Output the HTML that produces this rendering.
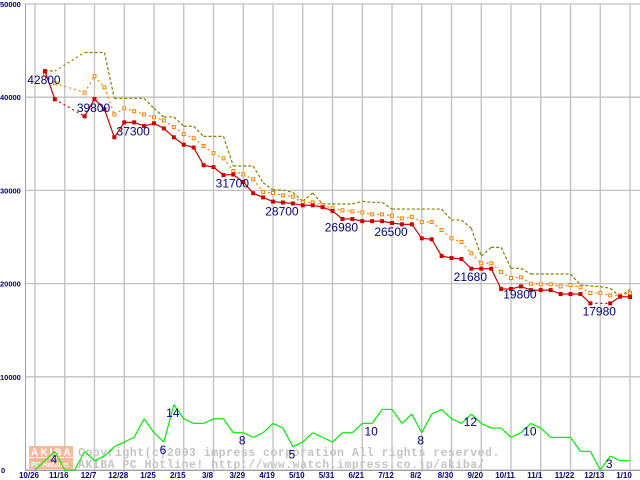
<!DOCTYPE html>
<html><head><meta charset="utf-8"><style>
html,body{margin:0;padding:0;background:#fff;width:640px;height:480px;overflow:hidden}
svg text{font-family:"Liberation Sans",sans-serif}
</style></head><body>
<svg id="chart" width="640" height="480" xmlns="http://www.w3.org/2000/svg">
<g id="grid"></g>
<g id="wm">
 <rect x="29" y="446" width="44" height="11" fill="#f7b99a"/>
 <rect x="29" y="458" width="44" height="11" fill="#f7b99a"/>
 <text x="31" y="455.5" font-size="10" font-weight="bold" fill="#fff" letter-spacing="2">AKIBA</text>
 <text x="31" y="467" font-size="7" font-weight="bold" fill="#fff">PC Hotline!</text>
 <text x="78" y="456" font-size="11.5" font-weight="bold" fill="#c4c4c4" letter-spacing="0.5" style="font-family:'Liberation Mono',monospace">Copyright(c)2003 impress corporation All rights reserved.</text>
 <text x="78" y="468" font-size="11.5" font-weight="bold" fill="#c4c4c4" letter-spacing="0.5" style="font-family:'Liberation Mono',monospace">AKIBA PC Hotline!  http://www.watch.impress.co.jp/akiba/</text>
</g>
<g id="series"></g>
<g id="labels"></g>
</svg>
<script>
const xTickLabels=["10/26","11/16","12/7","12/28","1/25","2/15","3/8","3/29","4/19","5/10","5/31","6/21","7/12","8/2","8/30","9/20","10/11","11/1","11/22","12/13","1/10"];
const yTicks=[0,10000,20000,30000,40000,50000];
const minPrice=[null,42800,39770,null,null,37950,39800,38700,35700,37300,37300,36900,37200,36650,35700,34900,34600,32700,32500,31650,31700,30900,29700,29250,28800,28700,28600,28400,28400,28200,27800,26930,26930,26700,26700,26700,26500,26360,26360,24860,24750,22960,22750,22640,21600,21600,21600,19420,19420,19700,19300,19300,19300,18880,18880,18880,17880,null,17880,18600,18560];
const avgPrice=[null,42400,41500,null,null,40500,42250,41050,38150,38800,38500,38150,37850,37500,36800,36050,35600,34760,34000,33440,32080,31720,31190,29830,29720,29470,29330,28720,28720,28430,28080,27860,27750,27640,27430,27430,27290,27000,27150,26610,26610,25750,24860,24460,23250,22180,22180,21240,20600,20670,19990,19920,19920,19700,19850,19600,18990,19000,18740,18740,18990];
const maxPrice=[null,42850,42800,null,null,44800,44800,44800,39880,39880,39880,39880,38800,37880,37880,36880,36880,35800,35800,35800,32620,32620,32620,30830,30040,30040,29790,28830,29720,28540,28540,28540,28540,28830,28720,28720,28000,28000,28000,28000,28000,28000,26820,26820,25930,22960,23890,23890,21640,21640,21030,21030,21030,21030,21030,19850,19740,19670,19500,18600,19390];
const shopCount=[0,2,4,0,0,4,2,3,5,6,7,11,8,6,14,11,10,10,11,11,8,8,7,8,10,9,5,6,8,7,6,8,8,10,10,13,13,10,12,8,12,13,11,10,12,10,9,9,7,8,10,9,7,7,7,4,4,0,3,2,2];
const priceLabels=[[1,42800],[6,39800],[10,37300],[20,31700],[25,28700],[31,26980],[36,26500],[44,21680],[49,19800],[57,17980]];
const countLabels=[[2,4],[13,6],[14,14],[21,8],[26,5],[34,10],[39,8],[44,12],[50,10],[58,3]];

const NS="http://www.w3.org/2000/svg";
const X0=35, WEEK=9.917, Y0=470, PPV=466/50000, CPV=4.66;
const xS=i=>X0+i*WEEK, yS=v=>Y0-v*PPV, yC=c=>Y0-c*CPV;
function mk(tag,attrs,parent){const e=document.createElementNS(NS,tag);for(const k in attrs)e.setAttribute(k,attrs[k]);parent.appendChild(e);return e;}
const grid=document.getElementById('grid'),ser=document.getElementById('series'),lab=document.getElementById('labels');
yTicks.forEach(v=>{
  const l=mk('line',{x1:25,x2:640,y1:yS(v),y2:yS(v),stroke:'#c0c0c0','stroke-width':1.3},grid);
  
  
  const t=mk('text',{x:v===0?1:0,y:yS(v)+3,'font-size':7.5,'font-weight':'bold',fill:'#000080'},grid);
  t.textContent=v===0?'0':String(v);
  
  
});
xTickLabels.forEach((s,k)=>{
  const x=X0+k*3*WEEK;
  const l=mk('line',{x1:x,x2:x,y1:4,y2:472,stroke:'#c0c0c0','stroke-width':1.3},grid);
  
  
  const t=mk('text',{x:x-6,y:478,'font-size':8,'font-weight':'bold',fill:'#000080','text-anchor':'middle'},grid);
  t.textContent=s;
  
  
});
const ax=mk('line',{x1:25.5,x2:25.5,y1:4,y2:471,stroke:'#a0a0a0','stroke-width':1},grid);


const bx=mk('line',{x1:25,x2:640,y1:470.5,y2:470.5,stroke:'#a0a0a0','stroke-width':1},grid);



function drawSeries(arr,yf,color,dash,name,marker){
  const g=mk('g',{},ser);
  
  
  let prev=null;
  arr.forEach((v,i)=>{
    if(v===null)return;
    if(prev!==null){
      const gap=i-prev>1;
      const a={x1:xS(prev),y1:yf(arr[prev]),x2:xS(i),y2:yf(v),stroke:color,'stroke-width':1.2};
      const d=gap?'2,3':dash; if(d)a['stroke-dasharray']=d;
      const l=mk('line',a,g);
      
      
    }
    prev=i;
  });
  if(marker){arr.forEach((v,i)=>{
    if(v===null)return;
    const r=mk('rect',marker==='fill'?{x:xS(i)-2,y:yf(v)-2,width:4,height:4,fill:color}:{x:xS(i)-1.5,y:yf(v)-1.5,width:3,height:3,fill:'#fff',stroke:color,'stroke-width':1},g);
    
    
  });}
}
drawSeries(shopCount,yC,'#00ee00',null,'shop-count-line',null);
drawSeries(maxPrice,yS,'#808000','3,2','max-price-line',null);
drawSeries(avgPrice,yS,'#ff8000','2,3','avg-price-line','open');
drawSeries(minPrice,yS,'#cc0000',null,'min-price-line','fill');
priceLabels.forEach(([i,v])=>{
  const t=mk('text',{x:xS(i)-1,y:yS(v)+13,'font-size':12,fill:'#000080','text-anchor':'middle'},lab);
  t.textContent=String(v);
  
  
});
countLabels.forEach(([i,c])=>{
  const t=mk('text',{x:xS(i)-1,y:yC(c)+12,'font-size':12,fill:'#000080','text-anchor':'middle'},lab);
  t.textContent=String(c);
  
  
});
</script>
</body></html>
